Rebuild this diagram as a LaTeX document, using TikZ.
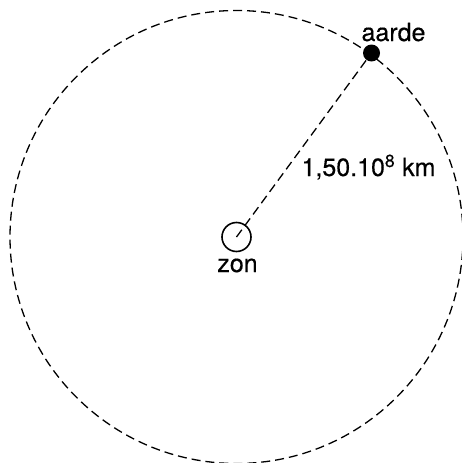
\documentclass[tikz,border=0pt]{standalone}
\usepackage{fontspec}
\setmainfont[FakeBold=0.4]{TeX Gyre Heros}
\usetikzlibrary{positioning}

\begin{document}
\begin{tikzpicture}[x=1pt, y=-1pt, font=\fontsize{25}{29}\selectfont,
  baan/.style={line width=1.3pt, dash pattern=on 9pt off 5pt},
  zonbol/.style={circle, draw, line width=1.6pt, minimum size=29pt, inner sep=0pt},
  aardebol/.style={circle, fill, minimum size=17pt, inner sep=0pt}]
  \useasboundingbox (0,0) rectangle (462,463);
  % zon en baan
  \node[zonbol] (zon) at (236.5,237) {};
  \draw[baan] (zon.center) circle[radius=226.5];
  \node[anchor=base] (zonlabel) at (237.5,272) {zon};
  % aarde
  \node[aardebol] (aarde) at (371.5,53) {};
  \node[anchor=base] (aardelabel) at (393.5,41) {aarde};
  % afstand
  \draw[baan] (zon.center) -- (aarde);
  \node[anchor=base] (afstand) at (368.5,176) {1,50.10\textsuperscript{8} km};
\end{tikzpicture}
\end{document}
